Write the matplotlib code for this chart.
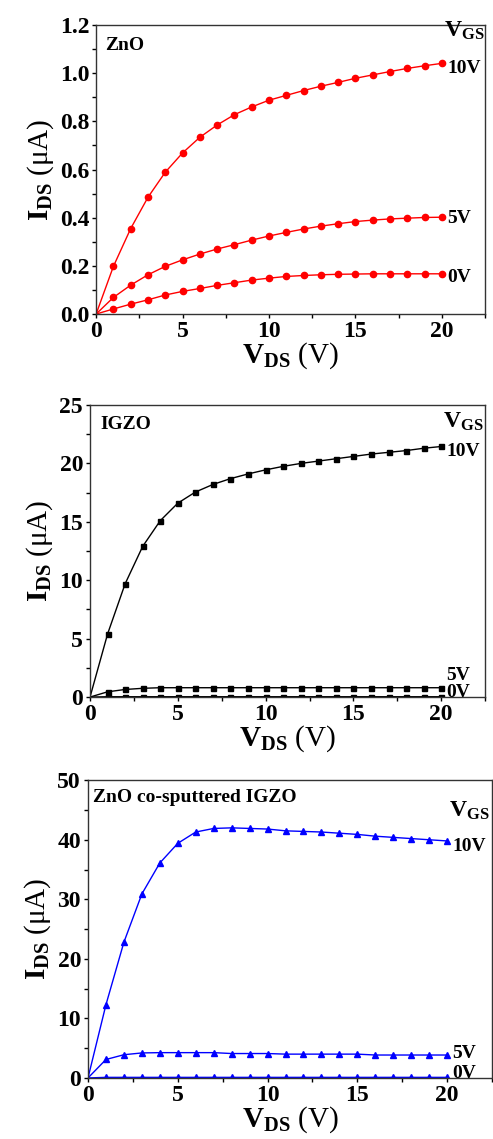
import matplotlib.pyplot as plt
from matplotlib.ticker import MultipleLocator

# Output characteristics of three TFTs #

plt.rcParams['font.family'] = ['Liberation Serif', 'DejaVu Serif']
plt.rcParams['font.weight'] = 'bold'
plt.rcParams['mathtext.fontset'] = 'custom'
plt.rcParams['mathtext.rm'] = 'Liberation Serif:bold'
plt.rcParams['mathtext.it'] = 'Liberation Serif:bold'
plt.rcParams['mathtext.bf'] = 'Liberation Serif:bold'

vds = [0, 1, 2, 3, 4, 5, 6, 7, 8, 9, 10, 11, 12, 13, 14, 15, 16, 17, 18, 19, 20]
vgs_labels = ["10V", "5V", "0V"]

zno_10 = [0, 0.198, 0.355, 0.485, 0.589, 0.669, 0.734, 0.785, 0.828, 0.860, 0.888,
          0.908, 0.928, 0.946, 0.962, 0.979, 0.993, 1.007, 1.020, 1.031, 1.041]
zno_5 = [0, 0.069, 0.120, 0.163, 0.198, 0.225, 0.249, 0.270, 0.288, 0.307, 0.324,
         0.339, 0.353, 0.365, 0.375, 0.384, 0.390, 0.395, 0.398, 0.401, 0.402]
zno_0 = [0, 0.021, 0.041, 0.059, 0.079, 0.094, 0.106, 0.119, 0.130, 0.141, 0.149,
         0.156, 0.160, 0.163, 0.165, 0.166, 0.167, 0.167, 0.167, 0.167, 0.167]

igzo_10 = [0, 5.4, 9.7, 12.9, 15.1, 16.6, 17.55, 18.2, 18.7, 19.1, 19.45,
           19.75, 20.0, 20.2, 20.4, 20.6, 20.8, 20.95, 21.1, 21.3, 21.45]
igzo_5 = [0, 0.45, 0.65, 0.75, 0.8, 0.8, 0.8, 0.8, 0.8, 0.8, 0.8,
          0.8, 0.8, 0.8, 0.8, 0.8, 0.8, 0.8, 0.8, 0.8, 0.8]
igzo_0 = [0, 0.03, 0.03, 0.03, 0.03, 0.03, 0.03, 0.03, 0.03, 0.03, 0.03,
          0.03, 0.03, 0.03, 0.03, 0.03, 0.03, 0.03, 0.03, 0.03, 0.03]

co_10 = [0, 12.3, 22.8, 30.9, 36.1, 39.4, 41.3, 41.9, 42.0, 41.9, 41.8,
         41.5, 41.4, 41.3, 41.1, 40.9, 40.6, 40.4, 40.2, 40.0, 39.8]
co_5 = [0, 3.1, 3.9, 4.2, 4.25, 4.25, 4.25, 4.25, 4.1, 4.1, 4.1,
        4.0, 4.0, 4.0, 4.0, 4.0, 3.85, 3.85, 3.85, 3.85, 3.85]
co_0 = [0, 0.1, 0.1, 0.1, 0.1, 0.1, 0.1, 0.1, 0.1, 0.1, 0.1,
        0.1, 0.1, 0.1, 0.1, 0.1, 0.1, 0.1, 0.1, 0.1, 0.1]

fig = plt.figure(figsize=(4.93, 11.39), dpi=100)

panels = [
    # title, curves, colour, marker, size, ymax, ymajor, yminor, fmt, rect,
    # title offset (px), V_GS drop (px), label shifts (px)
    ("ZnO", [zno_10, zno_5, zno_0], "#ff0000", "o", 4.5, 1.2, 0.2, 0.1, "%.1f",
     [0.195, 0.7243, 0.789, 0.2537], (9, -12), 6, [-5, -1, -4]),
    ("IGZO", [igzo_10, igzo_5, igzo_0], "black", "s", 3.6, 25, 5, 2.5, "%d",
     [0.1826, 0.388, 0.8014, 0.2564], (10, -11), 17, [-5, 12, 4]),
    ("ZnO co-sputtered IGZO", [co_10, co_5, co_0], "#0000ff", "^", 5, 50, 10, 5, "%d",
     [0.1785, 0.0536, 0.8195, 0.2614], (5, -9), 31, [-6, 2, 4]),
]

for (title, curves, col, mk, ms, ymax, ymaj, ymin, fmt, rect,
     toff, vdrop, shifts) in panels:
    ax = fig.add_axes(rect)
    for ys in curves:
        ax.plot(vds, ys, color=col, lw=1.0)
        ax.plot(vds[1:], ys[1:], ls='none', marker=mk, ms=ms, color=col)
    ax.set_xlim(0, 22.5)
    ax.set_ylim(0, ymax)
    ax.xaxis.set_major_locator(MultipleLocator(5))
    ax.xaxis.set_minor_locator(MultipleLocator(2.5))
    ax.yaxis.set_major_locator(MultipleLocator(ymaj))
    ax.yaxis.set_minor_locator(MultipleLocator(ymin))
    ax.yaxis.set_major_formatter(plt.FormatStrFormatter(fmt))
    ax.tick_params(which='both', direction='out', length=3, width=1, labelsize=17, pad=2)
    ax.tick_params(which='minor', labelleft=False, labelbottom=False)
    for s in ax.spines.values():
        s.set_linewidth(1.0)
        s.set_color('#333333')
    ax.set_xlabel(r'$\mathrm{V_{DS}}$ (V)', fontsize=21, labelpad=-1)
    ax.set_ylabel(r'$\mathrm{I_{DS}}$ (μA)', fontsize=21, labelpad=3)
    ax.annotate(title, xy=(0, 1), xycoords='axes fraction', xytext=toff,
                textcoords='offset pixels', fontsize=14, va='top', ha='left')
    ax.annotate(r'$\mathrm{V_{GS}}$', xy=(20.1, ymax), xycoords='data',
                xytext=(0, -vdrop), textcoords='offset pixels', fontsize=17,
                va='center', ha='left', annotation_clip=False)
    for ys, lab, dy in zip(curves, vgs_labels, shifts):
        ax.annotate(lab, xy=(20.3, ys[-1]), xycoords='data', xytext=(0, dy),
                    textcoords='offset pixels', fontsize=14, va='center', ha='left',
                    annotation_clip=False)

plt.savefig("out.png", dpi=100)
